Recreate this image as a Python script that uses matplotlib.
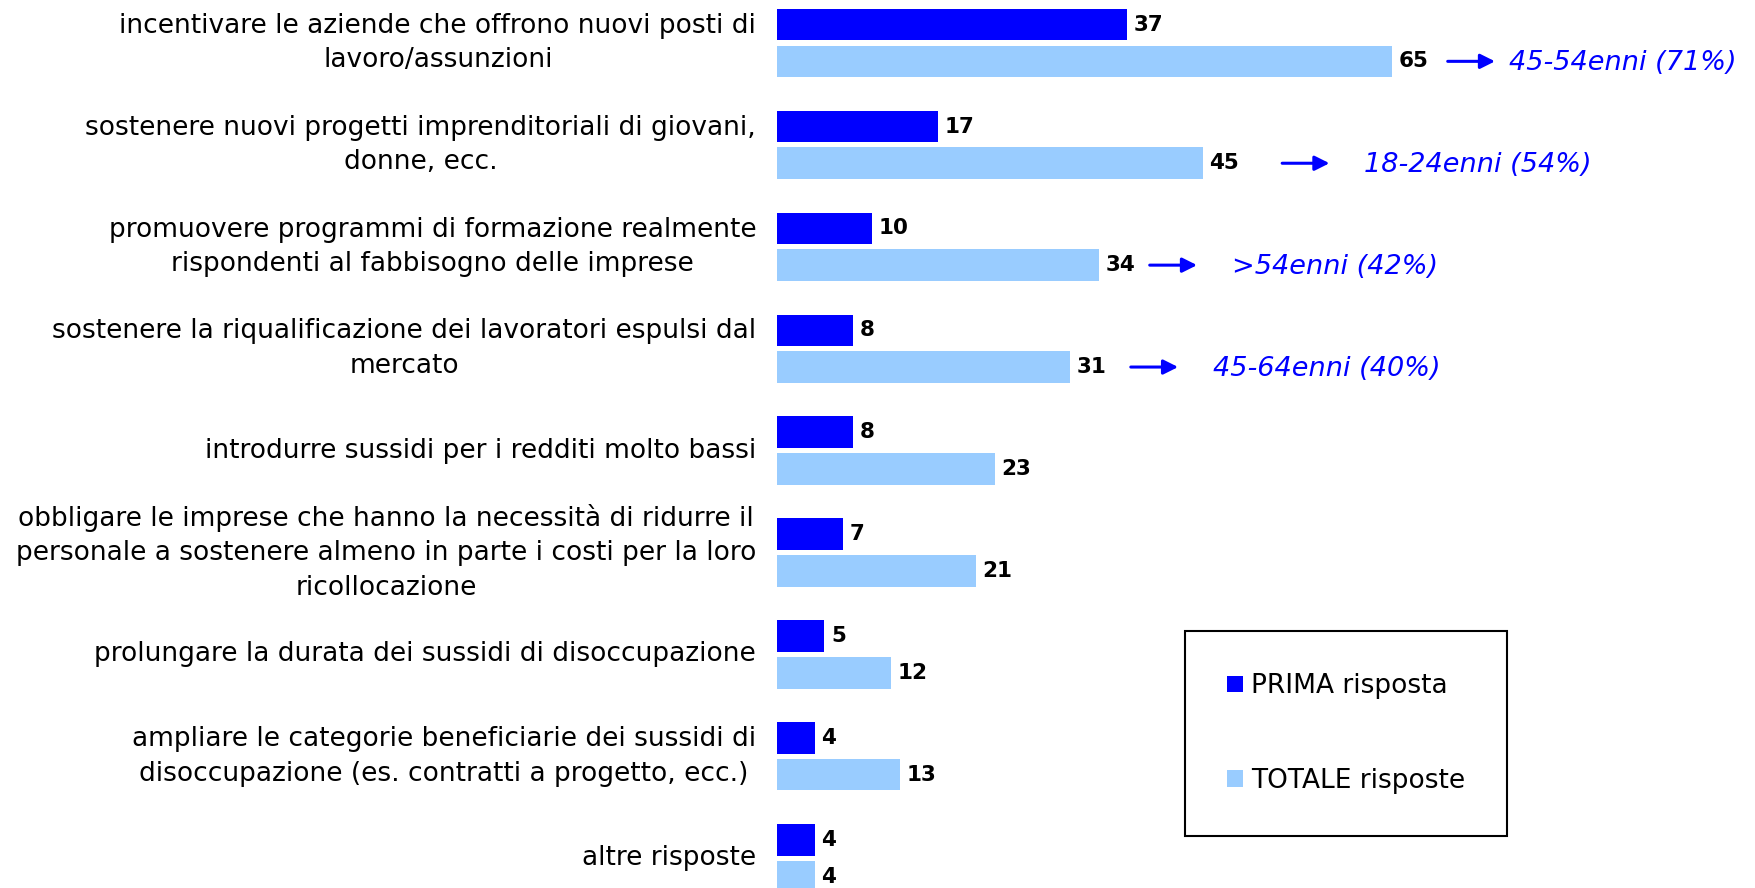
import numpy as np
import matplotlib
matplotlib.use("Agg")
import matplotlib.pyplot as plt

categories = [
    "incentivare le aziende che offrono nuovi posti di\nlavoro/assunzioni",
    "sostenere nuovi progetti imprenditoriali di giovani,\ndonne, ecc.",
    "promuovere programmi di formazione realmente\nrispondenti al fabbisogno delle imprese",
    "sostenere la riqualificazione dei lavoratori espulsi dal\nmercato",
    "introdurre sussidi per i redditi molto bassi",
    "obbligare le imprese che hanno la necessità di ridurre il\npersonale a sostenere almeno in parte i costi per la loro\nricollocazione",
    "prolungare la durata dei sussidi di disoccupazione",
    "ampliare le categorie beneficiarie dei sussidi di\ndisoccupazione (es. contratti a progetto, ecc.)",
    "altre risposte",
]
prima = [37, 17, 10, 8, 8, 7, 5, 4, 4]
totale = [65, 45, 34, 31, 23, 21, 12, 13, 4]

# callouts on the first four TOTALE bars
note_text = ["45-54enni (71%)", "18-24enni (54%)", ">54enni (42%)", "45-64enni (40%)"]
arrow_from = [70.9, 53.4, 39.4, 37.4]
arrow_to = [75.9, 58.4, 44.4, 42.4]
note_x = [77.4, 62.1, 48.1, 46.1]

dark = "#0000ff"
light = "#99ccff"

fig = plt.figure(figsize=(17.56, 8.88), dpi=100)
ax = fig.add_axes([777 / 1756, 0, 1 - 777 / 1756, 1])

y = np.arange(len(categories))
h = 0.31
ax.barh(y - 0.18, prima, height=h, color=dark, label="PRIMA risposta")
ax.barh(y + 0.18, totale, height=h, color=light, label="TOTALE risposte")

for i in range(len(categories)):
    ax.text(prima[i] + 0.7, y[i] - 0.18, str(prima[i]), va="center", ha="left",
            fontsize=15.5, fontweight="bold", color="black")
    ax.text(totale[i] + 0.7, y[i] + 0.18, str(totale[i]), va="center", ha="left",
            fontsize=15.5, fontweight="bold", color="black")
    ax.text(-2.2, y[i], categories[i], ha="right", va="center", multialignment="center",
            fontsize=19, linespacing=1.42, color="black", clip_on=False)

for i in range(len(note_text)):
    ax.annotate("", xy=(arrow_to[i], y[i] + 0.18), xytext=(arrow_from[i], y[i] + 0.18),
                arrowprops=dict(arrowstyle="-|>", color=dark, lw=2.2, mutation_scale=22,
                                shrinkA=0, shrinkB=0))
    ax.text(note_x[i], y[i] + 0.2, note_text[i], ha="left", va="center",
            fontsize=19.5, style="italic", color=dark)

ax.set_xlim(0, 979 / 9.46)
ax.set_ylim((888 - 43) / 101.9, -43 / 101.9)
ax.axis("off")

leg = ax.legend(loc="upper left", bbox_to_anchor=(1185 / 1756, 1 - 631 / 888),
                bbox_transform=fig.transFigure, fontsize=19, frameon=True, fancybox=False,
                edgecolor="black", framealpha=1, borderpad=1.6, labelspacing=2.6,
                handlelength=0.6, handleheight=0.6, handletextpad=0.3, borderaxespad=0)
leg.get_frame().set_linewidth(1.5)

fig.savefig("out.png", dpi=100)
